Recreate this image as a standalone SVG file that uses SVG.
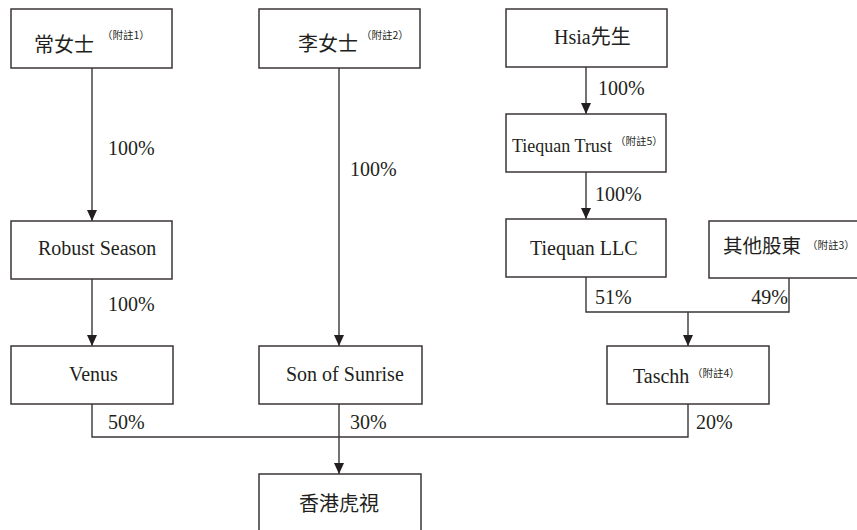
<svg xmlns="http://www.w3.org/2000/svg" width="857" height="530" viewBox="0 0 857 530">
<defs>
<style>
.box{fill:#fff;stroke:#3b3536;stroke-width:1.5}
.ln{fill:none;stroke:#3b3536;stroke-width:1.4}
.t{font-family:"Liberation Serif","Noto Sans CJK TC",serif;font-size:20px;fill:#231f20}
.c{font-family:"Noto Sans CJK TC","Liberation Serif",sans-serif;font-size:20px;fill:#231f20}
.n{font-family:"Noto Sans CJK TC","Liberation Serif",sans-serif;font-size:10.5px;fill:#231f20}
.p{font-family:"Liberation Serif",serif;font-size:20px;fill:#231f20}
</style>
<marker id="arr" markerUnits="userSpaceOnUse" markerWidth="12" markerHeight="10" refX="11" refY="5" orient="auto">
<path d="M0,0 L11,5 L0,10 z" fill="#231f20"/>
</marker>
</defs>
<rect width="857" height="530" fill="#fff"/>
<g id="connectors">
<line class="ln" x1="92" y1="68" x2="92" y2="221" marker-end="url(#arr)"/>
<line class="ln" x1="339" y1="68" x2="339" y2="346" marker-end="url(#arr)"/>
<line class="ln" x1="586" y1="67" x2="586" y2="114" marker-end="url(#arr)"/>
<line class="ln" x1="586" y1="172" x2="586" y2="219" marker-end="url(#arr)"/>
<line class="ln" x1="92" y1="279" x2="92" y2="346" marker-end="url(#arr)"/>
<polyline class="ln" points="586,277 586,312 789,312 789,278"/>
<line class="ln" x1="688" y1="312" x2="688" y2="346" marker-end="url(#arr)"/>
<polyline class="ln" points="92,404 92,437 688,437 688,404"/>
<line class="ln" x1="339" y1="404" x2="339" y2="474" marker-end="url(#arr)"/>
<text class="p" x="108" y="155">100%</text>
<text class="p" x="350" y="176">100%</text>
<text class="p" x="598" y="95">100%</text>
<text class="p" x="595" y="201">100%</text>
<text class="p" x="108" y="311">100%</text>
<text class="p" x="595" y="304">51%</text>
<text class="p" x="788" y="304" text-anchor="end">49%</text>
<text class="p" x="108" y="429">50%</text>
<text class="p" x="350" y="429">30%</text>
<text class="p" x="696" y="429">20%</text>
</g>
<g id="node-chang">
<rect class="box" x="11" y="9" width="161" height="59"/>
<text class="c" x="34" y="51.5">常女士</text>
<text class="n" x="102" y="39">（附註1）</text>
</g>
<g id="node-li">
<rect class="box" x="259" y="9" width="161" height="59"/>
<text class="c" x="298" y="51">李女士</text>
<text class="n" x="361" y="39">（附註2）</text>
</g>
<g id="node-hsia">
<rect class="box" x="506" y="9" width="161" height="58"/>
<text class="t" x="554" y="44">Hsia先生</text>
</g>
<g id="node-trust">
<rect class="box" x="506" y="114" width="160" height="58"/>
<text class="t" x="512" y="152" style="font-size:18px">Tiequan Trust</text>
<text class="n" x="615" y="145">（附註5）</text>
</g>
<g id="node-robust">
<rect class="box" x="11" y="221" width="161" height="58"/>
<text class="t" x="38" y="255">Robust Season</text>
</g>
<g id="node-llc">
<rect class="box" x="506" y="219" width="160" height="58"/>
<text class="t" x="530" y="255">Tiequan LLC</text>
</g>
<g id="node-others">
<rect class="box" x="709" y="221" width="170" height="57"/>
<text class="c" x="723" y="252.5" style="font-size:19.5px">其他股東</text>
<text class="n" x="807" y="249">（附註3）</text>
</g>
<g id="node-venus">
<rect class="box" x="11" y="346" width="162" height="58"/>
<text class="t" x="69" y="381">Venus</text>
</g>
<g id="node-sunrise">
<rect class="box" x="259" y="346" width="163" height="58"/>
<text class="t" x="286" y="381">Son of Sunrise</text>
</g>
<g id="node-taschh">
<rect class="box" x="607" y="346" width="162" height="58"/>
<text class="t" x="633" y="383">Taschh</text>
<text class="n" x="692" y="377">（附註4）</text>
</g>
<g id="node-hk">
<rect class="box" x="259" y="474" width="162" height="62"/>
<text class="c" x="299" y="510.5">香港虎視</text>
</g>
</svg>
